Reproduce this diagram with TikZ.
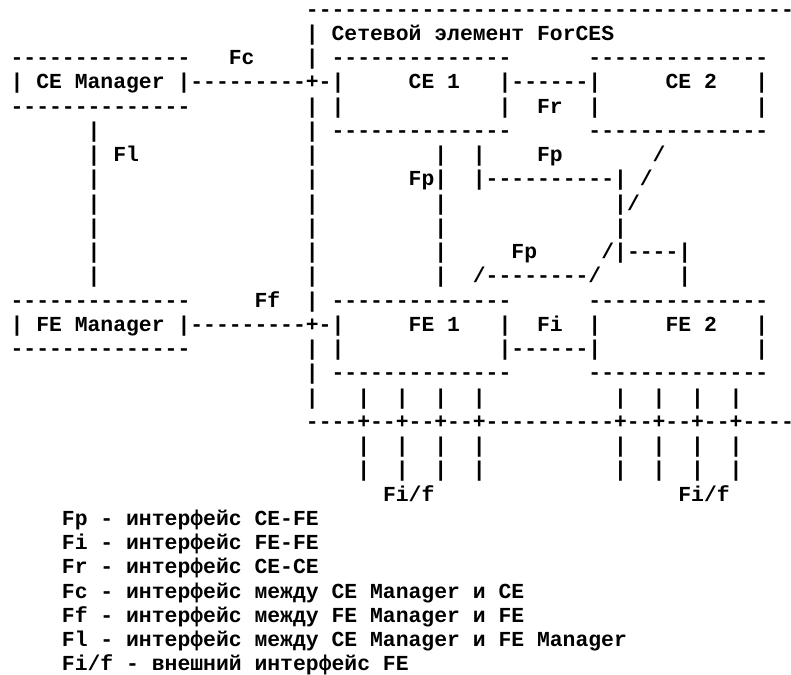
\documentclass[tikz,border=0pt]{standalone}
\usepackage{fontspec}
\setmonofont{Liberation Mono}
% runs of hyphens and fixed-width blanks measured in character cells
\ExplSyntaxOn
\cs_new:Npn \dashrun #1 { \prg_replicate:nn {#1} {-} }
\ExplSyntaxOff
\newcommand\gapcols[1]{\kern\dimexpr#1\fontcharwd\font`\M\relax}
% one line of the character grid: name, line number, content
\newcommand\gridline[3]{\node[asc] (#1) at (7.94,{-12.2-18.18*#2}) {#3};}

\begin{document}
\begin{tikzpicture}[x=1pt,y=1pt,
  asc/.style={anchor=base west,inner sep=0pt,outer sep=0pt,
    font=\ttfamily\bfseries\fontsize{16.05}{18}\selectfont}]
\useasboundingbox (0,0) rectangle (593.25,-505.5);
\fill[white] (0,0) rectangle (593.25,-505.5);
\clip (0,0) rectangle (593.25,-505.5);

% network element frame, managers, CE and FE boxes
\gridline{l00}{0}{\gapcols{23}\dashrun{39}}
\gridline{l01}{1}{\gapcols{23}| Сетевой элемент ForCES}
\gridline{l02}{2}{\dashrun{14}\gapcols{3}Fc\gapcols{4}|\gapcols{1}\dashrun{14}\gapcols{6}\dashrun{14}}
\gridline{l03}{3}{| CE Manager |\dashrun{9}+-|\gapcols{5}CE 1\gapcols{3}|\dashrun{6}|\gapcols{5}CE 2\gapcols{3}|}
\gridline{l04}{4}{\dashrun{14}\gapcols{9}| |\gapcols{12}|\gapcols{2}Fr\gapcols{2}|\gapcols{12}|}
\gridline{l05}{5}{\gapcols{6}|\gapcols{16}|\gapcols{1}\dashrun{14}\gapcols{6}\dashrun{14}}
\gridline{l06}{6}{\gapcols{6}| Fl\gapcols{13}|\gapcols{9}|\gapcols{2}|\gapcols{4}Fp\gapcols{7}/}
\gridline{l07}{7}{\gapcols{6}|\gapcols{16}|\gapcols{7}Fp|\gapcols{2}|\dashrun{10}|\gapcols{1}/}
\gridline{l08}{8}{\gapcols{6}|\gapcols{16}|\gapcols{9}|\gapcols{13}|/}
\gridline{l09}{9}{\gapcols{6}|\gapcols{16}|\gapcols{9}|\gapcols{13}|}
\gridline{l10}{10}{\gapcols{6}|\gapcols{16}|\gapcols{9}|\gapcols{5}Fp\gapcols{5}/|\dashrun{4}|}
\gridline{l11}{11}{\gapcols{6}|\gapcols{16}|\gapcols{9}|\gapcols{2}/\dashrun{8}/\gapcols{6}|}
\gridline{l12}{12}{\dashrun{14}\gapcols{5}Ff\gapcols{2}|\gapcols{1}\dashrun{14}\gapcols{6}\dashrun{14}}
\gridline{l13}{13}{| FE Manager |\dashrun{9}+-|\gapcols{5}FE 1\gapcols{3}|\gapcols{2}Fi\gapcols{2}|\gapcols{5}FE 2\gapcols{3}|}
\gridline{l14}{14}{\dashrun{14}\gapcols{9}| |\gapcols{12}|\dashrun{6}|\gapcols{12}|}
\gridline{l15}{15}{\gapcols{23}|\gapcols{1}\dashrun{14}\gapcols{6}\dashrun{14}}

% external ports and the shared link
\gridline{l16}{16}{\gapcols{23}|\gapcols{3}|\gapcols{2}|\gapcols{2}|\gapcols{2}|\gapcols{10}|\gapcols{2}|\gapcols{2}|\gapcols{2}|}
\gridline{l17}{17}{\gapcols{23}\dashrun{4}+\dashrun{2}+\dashrun{2}+\dashrun{2}+\dashrun{10}+\dashrun{2}+\dashrun{2}+\dashrun{2}+\dashrun{5}}
\gridline{l18}{18}{\gapcols{27}|\gapcols{2}|\gapcols{2}|\gapcols{2}|\gapcols{10}|\gapcols{2}|\gapcols{2}|\gapcols{2}|}
\gridline{l19}{19}{\gapcols{27}|\gapcols{2}|\gapcols{2}|\gapcols{2}|\gapcols{10}|\gapcols{2}|\gapcols{2}|\gapcols{2}|}
\gridline{l20}{20}{\gapcols{29}Fi/f\gapcols{19}Fi/f}

% legend
\gridline{l21}{21}{\gapcols{4}Fp - интерфейс CE-FE}
\gridline{l22}{22}{\gapcols{4}Fi - интерфейс FE-FE}
\gridline{l23}{23}{\gapcols{4}Fr - интерфейс CE-CE}
\gridline{l24}{24}{\gapcols{4}Fc - интерфейс между CE Manager и CE}
\gridline{l25}{25}{\gapcols{4}Ff - интерфейс между FE Manager и FE}
\gridline{l26}{26}{\gapcols{4}Fl - интерфейс между CE Manager и FE Manager}
\gridline{l27}{27}{\gapcols{4}Fi/f - внешний интерфейс FE}
\end{tikzpicture}
\end{document}
